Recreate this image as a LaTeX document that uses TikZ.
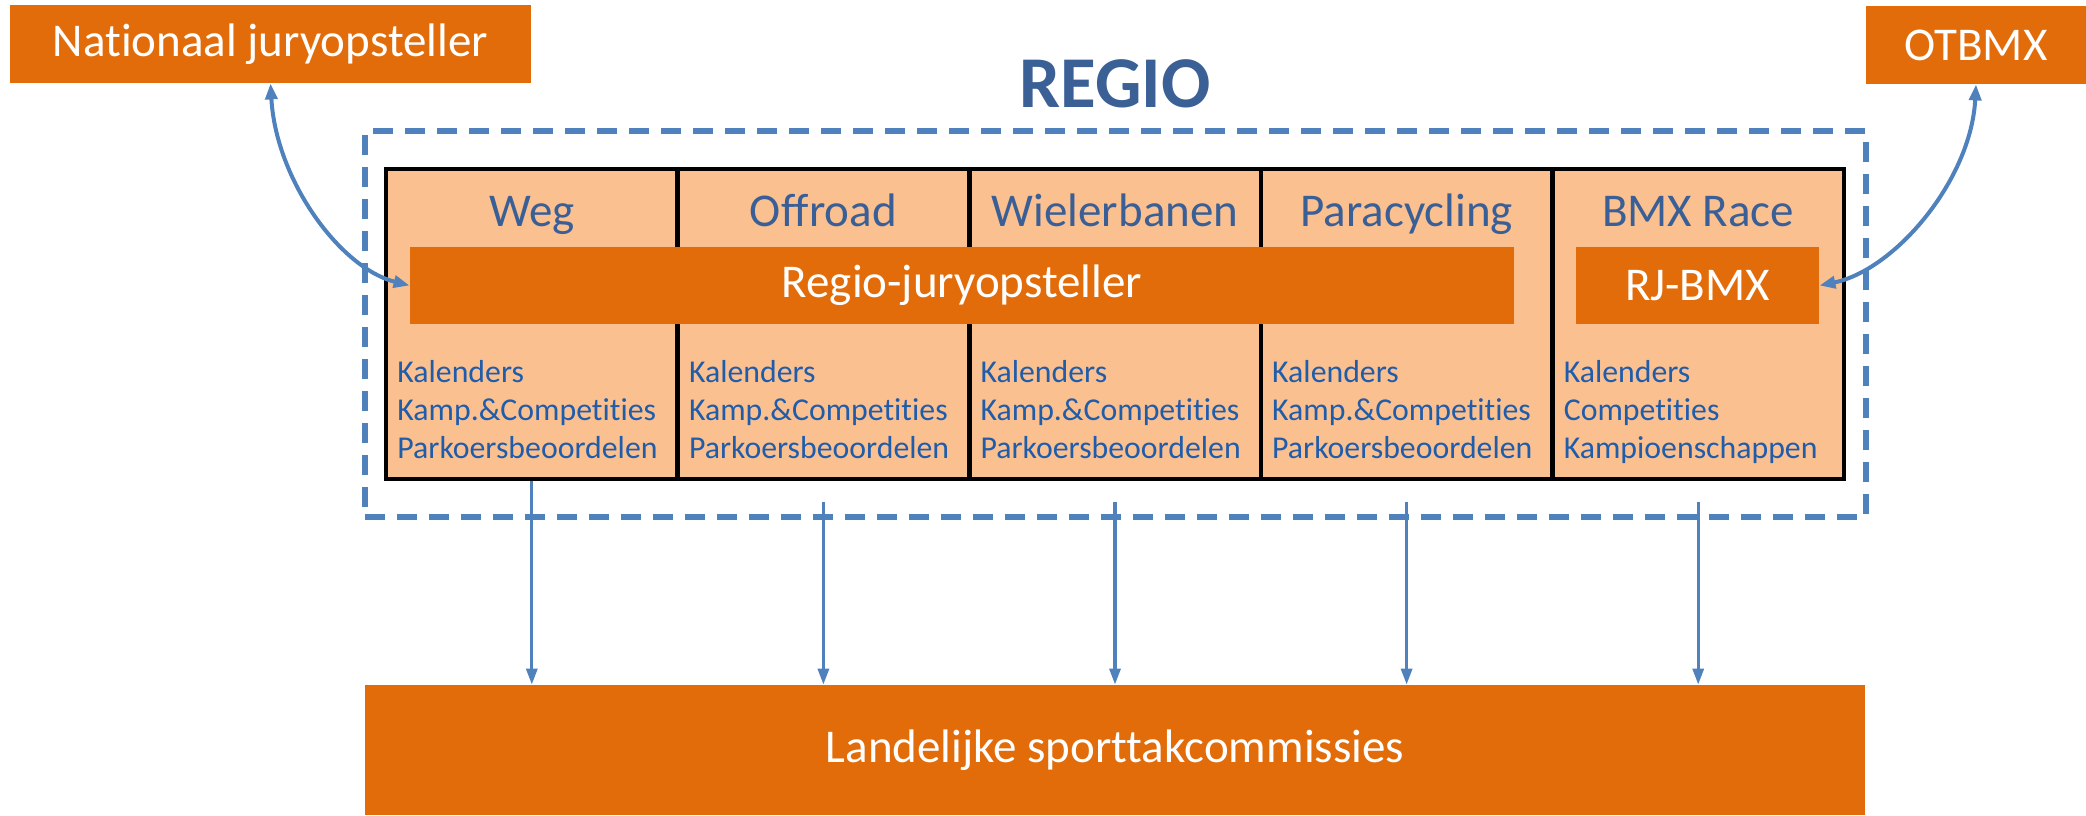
\documentclass[tikz,border=0pt]{standalone}
\usepackage{fontspec}
\setmainfont{Carlito}[Ligatures={NoCommon}]
\usetikzlibrary{arrows.meta}
\definecolor{orng}{HTML}{E36C0A}
\definecolor{lightorng}{HTML}{FAC090}
\definecolor{hdrblue}{HTML}{3A5F96}
\definecolor{itemblue}{HTML}{1F5CAA}
\definecolor{arrowblue}{HTML}{4F81BD}
\definecolor{titleblue}{HTML}{3A6096}
\tikzset{
  obox/.style={fill=orng, inner sep=0pt, text=white, font=\fontsize{23.5}{28}\selectfont},
  colbox/.style={fill=lightorng, draw=black, line width=2.3pt, inner sep=0pt,
    minimum width=145.8pt, minimum height=155pt},
  hdr/.style={anchor=base, text=hdrblue, inner sep=0pt, font=\fontsize{23.5}{28}\selectfont},
  itm/.style={anchor=base west, text=itemblue, inner sep=0pt, font=\fontsize{15.9}{19}\selectfont},
  frame/.style={draw=arrowblue, line width=2.6pt, dash pattern=on 10pt off 6pt, inner sep=0pt},
  curvarrow/.style={draw=arrowblue, line width=2pt,
    {Triangle[length=8pt,width=6pt]}-{Triangle[length=8pt,width=6pt]}},
  downarrow/.style={draw=arrowblue, line width=1.6pt, -{Triangle[length=8pt,width=5.5pt]}}
}
\begin{document}
\begin{tikzpicture}[x=0.5pt,y=-0.5pt]
\useasboundingbox (0,0) rectangle (2086,815);
% dashed regional frame
\node[frame, minimum width=750.5pt, minimum height=193pt] (regio) at (1115.5,324) {};
% top boxes
\node[obox, minimum width=260.5pt, minimum height=39pt] (nat) at (270.5,44) {Nationaal juryopsteller};
\node[obox, minimum width=110pt, minimum height=39pt] (otbmx) at (1976,45) {OTBMX};
% title
\node[text=titleblue, font=\fontsize{36.5}{42}\selectfont\bfseries, inner sep=0pt] (title) at (1115,84) {REGIO};
% columns
\foreach \i/\cx in {1/531.8, 2/823.4, 3/1115, 4/1406.6, 5/1698.2} {
  \node[colbox] (col\i) at (\cx,324) {};
}
\node[hdr] (h1) at (531.8,226) {Weg};
\node[hdr] (h2) at (823.4,226) {Offroad};
\node[hdr] (h3) at (1115,226) {Wielerbanen};
\node[hdr] (h4) at (1406.6,226) {Paracycling};
\node[hdr] (h5) at (1698.2,226) {BMX Race};
% inner orange boxes
\node[obox, minimum width=552pt, minimum height=38.5pt] (rj) at (962,285.5) {Regio-juryopsteller};
\node[obox, minimum width=121.5pt, minimum height=38.5pt] (rjbmx) at (1697.5,285.5) {RJ-BMX};
% item texts
\foreach \i/\lx in {1/397, 2/688.6, 3/980.2, 4/1271.8} {
  \node[itm] (k\i) at (\lx,382) {Kalenders};
  \node[itm] (c\i) at (\lx,420) {Kamp.\&Competities};
  \node[itm] (p\i) at (\lx,458) {Parkoersbeoordelen};
}
\node[itm] (k5) at (1563.4,382) {Kalenders};
\node[itm] (c5) at (1563.4,420) {Competities};
\node[itm] (p5) at (1563.4,458) {Kampioenschappen};
% bottom box
\node[obox, minimum width=750pt, minimum height=65pt] (land) at (1115,750) {Landelijke sporttakcommissies};
% down arrows
\coordinate (s2) at (823.4,502);
\coordinate (s3) at (1115,502);
\coordinate (s4) at (1406.6,502);
\coordinate (s5) at (1698.2,502);
\draw[downarrow] (col1.south) -- (col1.south |- land.north);
\foreach \i in {2,3,4,5} {
  \draw[downarrow] (s\i) -- (s\i |- land.north);
}
% curved double arrows
\draw[curvarrow] (nat.south) .. controls (276,180) and (340,268) .. (rj.west);
\draw[curvarrow] (otbmx.south) .. controls (1971,180) and (1895,270) .. (rjbmx.east);
\end{tikzpicture}
\end{document}
